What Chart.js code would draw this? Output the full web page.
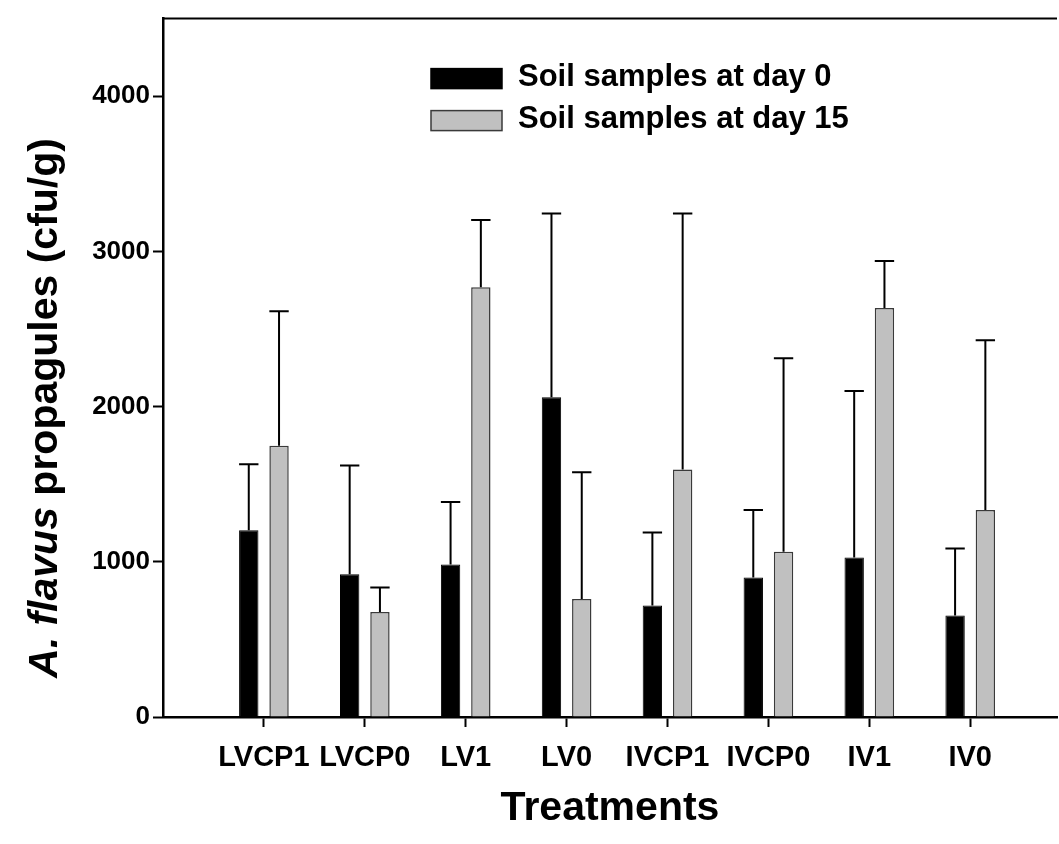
<!DOCTYPE html>
<html>
<head>
<meta charset="utf-8">
<script src="https://cdn.jsdelivr.net/npm/chart.js@4"></script>
<style>
  html, body { margin: 0; padding: 0; background: #fff; }
  canvas { display: block; }
</style>
</head>
<body>
<canvas id="propagules" width="1059" height="844"></canvas>
<script>
const treatments = ["LVCP1", "LVCP0", "LV1", "LV0", "IVCP1", "IVCP0", "IV1", "IV0"];
const day0 = [1203, 919, 983, 2060, 718, 899, 1028, 654];
const day0Err = [425, 701, 402, 1184, 470, 434, 1072, 431];
const day15 = [1748, 677, 2769, 761, 1594, 1064, 2635, 1333];
const day15Err = [867, 158, 434, 816, 1650, 1248, 303, 1095];
const yTicks = [0, 1000, 2000, 3000, 4000];

const FONT = "'Liberation Sans', Arial, sans-serif";

// upward-only error bars, cap as wide as the bar
const errorBars = {
  id: "errorBars",
  afterDatasetsDraw(chart) {
    const { ctx } = chart;
    const y = chart.scales.y;
    ctx.save();
    ctx.strokeStyle = "#000";
    ctx.lineWidth = 2;
    chart.data.datasets.forEach((ds, di) => {
      chart.getDatasetMeta(di).data.forEach((bar, i) => {
        const top = y.getPixelForValue(ds.data[i].y + ds.errors[i]);
        const half = bar.width / 2;
        ctx.beginPath();
        ctx.moveTo(bar.x, bar.y);
        ctx.lineTo(bar.x, top);
        ctx.moveTo(bar.x - half, top);
        ctx.lineTo(bar.x + half, top);
        ctx.stroke();
      });
    });
    ctx.restore();
  }
};

// top frame line, legend box and axis titles
const decorations = {
  id: "decorations",
  afterDraw(chart) {
    const { ctx, chartArea: a } = chart;
    ctx.save();

    ctx.strokeStyle = "#000";
    ctx.lineWidth = 2;
    ctx.beginPath();
    ctx.moveTo(a.left - 1, a.top);
    ctx.lineTo(a.right, a.top);
    ctx.stroke();

    // legend
    ctx.font = "bold 31px " + FONT;
    ctx.textBaseline = "alphabetic";
    ctx.textAlign = "left";
    chart.data.datasets.forEach((ds, i) => {
      const sy = a.top + 50 + i * 42;
      ctx.fillStyle = ds.backgroundColor;
      ctx.fillRect(431, sy, 71, 20);
      ctx.strokeStyle = ds.borderColor;
      ctx.lineWidth = 1.5;
      ctx.strokeRect(431, sy, 71, 20);
      ctx.fillStyle = "#000";
      ctx.fillText(ds.label, 518, sy + 17);
    });

    // y title: species name in italics
    const parts = [
      { text: "A. flavus", font: "italic bold 41px " + FONT },
      { text: " propagules (cfu/g)", font: "bold 41px " + FONT }
    ];
    let total = 0;
    parts.forEach((p) => { ctx.font = p.font; p.w = ctx.measureText(p.text).width; total += p.w; });
    ctx.translate(57, 408);
    ctx.rotate(-Math.PI / 2);
    let x = -total / 2;
    parts.forEach((p) => {
      ctx.font = p.font;
      ctx.fillText(p.text, x, 0);
      x += p.w;
    });
    ctx.setTransform(1, 0, 0, 1, 0, 0);

    // x title
    ctx.font = "bold 41px " + FONT;
    ctx.textAlign = "center";
    ctx.fillText("Treatments", (a.left + a.right) / 2, 820);
    ctx.restore();
  }
};

new Chart(document.getElementById("propagules"), {
  type: "bar",
  data: {
    datasets: [
      {
        label: "Soil samples at day 0",
        data: day0.map((v, i) => ({ x: i, y: v })),
        errors: day0Err,
        backgroundColor: "#000000",
        borderColor: "#000000",
        borderWidth: 1,
        categoryPercentage: 0.6,
        barPercentage: 0.64,
      },
      {
        label: "Soil samples at day 15",
        data: day15.map((v, i) => ({ x: i, y: v })),
        errors: day15Err,
        backgroundColor: "#c0c0c0",
        borderColor: "#3a3a3a",
        borderWidth: 1.5,
        categoryPercentage: 0.6,
        barPercentage: 0.64,
      },
    ],
  },
  options: {
    responsive: false,
    animation: false,
    layout: { padding: { top: 15, right: 2, left: 0, bottom: 0 } },
    plugins: {
      legend: { display: false },
      tooltip: { enabled: false },
    },
    scales: {
      x: {
        type: "linear",
        offset: false,
        min: -1,
        max: 7.86,
        afterBuildTicks: (s) => { s.ticks = treatments.map((_, i) => ({ value: i })); },
        afterFit: (s) => { s.height = 127; },
        grid: { offset: false, drawOnChartArea: false, tickLength: 10, tickWidth: 2, tickColor: "#000" },
        border: { color: "#000", width: 2.5 },
        ticks: {
          color: "#000",
          font: { family: FONT, size: 29, weight: "bold" },
          padding: 14,
          maxRotation: 0,
          autoSkip: false,
          callback: (v) => treatments[v],
        },
      },
      y: {
        min: 0,
        max: 4500,
        afterBuildTicks: (s) => { s.ticks = yTicks.map((v) => ({ value: v })); },
        afterFit: (s) => { s.width = 163; },
        grid: { drawOnChartArea: false, tickLength: 10, tickWidth: 2, tickColor: "#000" },
        border: { color: "#000", width: 2.5 },
        ticks: {
          color: "#000",
          font: { family: FONT, size: 26, weight: "bold" },
          padding: 3,
          callback: (v) => String(v),
        },
      },
    },
  },
  plugins: [errorBars, decorations],
});
</script>
</body>
</html>
